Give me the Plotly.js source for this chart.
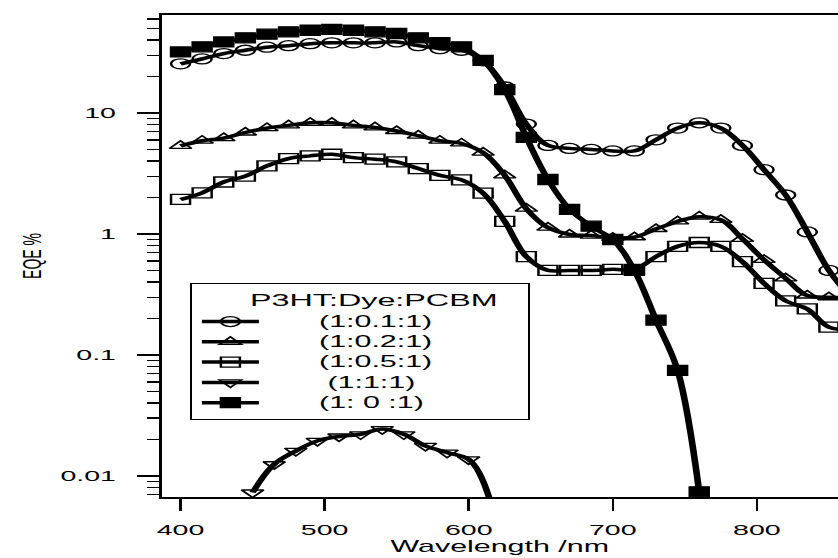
<!DOCTYPE html>
<html>
<head>
<meta charset="utf-8">
<script src="https://cdn.plot.ly/plotly-3.0.1.min.js"></script>
<style>
  html, body { margin: 0; padding: 0; background: #fff; overflow: hidden; width: 838px; height: 558px; }
  #wrap { width: 441px; height: 558px; transform: scaleX(1.9002); transform-origin: 0 0; }
</style>
</head>
<body>
<div id="wrap"><div id="chart"></div></div>
<script>
// ---- data ----
const wlMain = [400,415,430,445,460,475,490,505,520,535,550,565,580,595,610,625,640,655,670,685,700,715,730,745,760,775,790,805,820,835,850,865];
const wlDye11 = [450,465,480,495,510,525,540,555,570,585,600,615];
const wlNoDye = [400,415,430,445,460,475,490,505,520,535,550,565,580,595,610,625,640,655,670,685,700,715,730,745,760];

const eqe_1_01_1 = [25.5,28,31,33,35,36,37.4,38,38,38,38.7,36,34,33,27,16.4,8.1,5.4,5.1,5.0,4.86,4.86,6.0,7.5,8.3,7.5,5.4,3.4,2.1,1.04,0.50,0.30];
const eqe_1_02_1 = [5.35,5.9,6.2,6.9,7.5,7.9,8.3,8.3,7.9,7.6,7.1,6.5,5.9,5.6,4.7,3.05,1.62,1.13,0.99,0.97,0.93,0.94,1.1,1.27,1.39,1.31,0.91,0.61,0.43,0.31,0.30,0.30];
const eqe_1_05_1 = [1.93,2.19,2.69,3.01,3.65,4.2,4.42,4.56,4.28,4.15,3.94,3.47,3.05,2.8,2.18,1.27,0.65,0.50,0.50,0.50,0.51,0.51,0.65,0.79,0.85,0.79,0.59,0.39,0.28,0.24,0.17,0.16];
const eqe_1_1_1  = [0.0073,0.0125,0.0161,0.0195,0.0212,0.0221,0.0244,0.0221,0.0177,0.0156,0.0137,0.0062];
const eqe_1_0_1  = [32,35.2,38.7,41.8,44.8,46.9,48.3,49.2,48.3,46.9,45.4,41.8,38.2,35.2,27.2,15.6,6.3,2.82,1.6,1.16,0.90,0.50,0.194,0.0745,0.0074];

const seriesNames = ['(1:0.1:1)','(1:0.2:1)','(1:0.5:1)','(1:1:1)','(1: 0 :1)'];
const legendTitle = 'P3HT:Dye:PCBM';
const yTickVals = [0.01,0.1,1,10];
const yTickText = ['0.01','0.1','1','10'];
const xTitle = 'Wavelength /nm';
const yTitle = 'EQE %';

// ---- styling ----
const NB = '\u00A0';
function pad(name, lead, trail) {
  return '<span style="font-size:16px">' + NB.repeat(lead) + name + NB.repeat(trail) + '</span>';
}
const FONT = 'Liberation Sans, Arial, sans-serif';
function trace(x, y, name, symbol, lead, trail) {
  return {
    x: x, y: y, name: pad(name, lead, trail), type: 'scatter', mode: 'lines+markers',
    line: {color: '#000', width: 3.5, shape: 'spline', smoothing: 1},
    marker: {symbol: symbol, size: 10, color: '#000', line: {color: '#000', width: 1.3}},
    cliponaxis: true
  };
}
const data = [
  trace(wlMain, eqe_1_01_1, seriesNames[0], 'circle-open', 6, 10),
  trace(wlMain, eqe_1_02_1, seriesNames[1], 'triangle-up-open', 6, 10),
  trace(wlMain, eqe_1_05_1, seriesNames[2], 'square-open', 6, 10),
  trace(wlDye11, eqe_1_1_1, seriesNames[3], 'triangle-down-open', 7, 10),
  trace(wlNoDye, eqe_1_0_1, seriesNames[4], 'square', 6, 10)
];

const minorVals = [];
[0.001,0.01,0.1,1,10].forEach(d => { for (let k = 2; k <= 9; k++) minorVals.push(d*k); });

const layout = {
  width: 441, height: 558,
  margin: {l: 85, r: 0, t: 15, b: 61, pad: 0},
  paper_bgcolor: '#fff', plot_bgcolor: '#fff',
  font: {family: FONT, color: '#000', size: 15},
  showlegend: true,
  legend: {
    x: 0.042, y: 0.444, xanchor: 'left', yanchor: 'top',
    bordercolor: '#000', borderwidth: 1.3, bgcolor: '#fff',
    font: {family: FONT, size: 13.3, color: '#000'},
    title: {text: NB.repeat(6) + legendTitle, side: 'top', font: {family: FONT, size: 17, color: '#000'}},
    itemwidth: 30, tracegroupgap: 0
  },
  xaxis: {
    range: [386.8, 856.3], autorange: false,
    tickmode: 'linear', tick0: 400, dtick: 100,
    ticks: 'outside', ticklen: 12, tickwidth: 1.3, tickcolor: '#000',
    showline: true, linecolor: '#000', linewidth: 2, mirror: true,
    showgrid: false, zeroline: false,
    tickfont: {family: FONT, size: 15, color: '#000'},
    ticklabelstandoff: 6,
    title: {text: xTitle, font: {family: FONT, size: 16, color: '#000'}, standoff: 0},
    automargin: false
  },
  yaxis: {
    type: 'log', range: [Math.log10(0.0067), 1.81], autorange: false,
    tickmode: 'array', tickvals: yTickVals, ticktext: yTickText,
    ticks: 'outside', ticklen: 11.6, tickwidth: 1.5, tickcolor: '#000',
    minor: {tickmode: 'array', tickvals: minorVals, ticks: 'outside', ticklen: 6.3, tickwidth: 1.5, tickcolor: '#000', showgrid: false},
    showline: true, linecolor: '#000', linewidth: 1.4, mirror: false,
    showgrid: false, zeroline: false,
    tickfont: {family: FONT, size: 15, color: '#000'},
    ticklabelstandoff: 8,
    title: {text: yTitle, font: {family: FONT, size: 14, color: '#000'}, standoff: 6},
    automargin: false
  }
};

Plotly.newPlot('chart', data, layout, {staticPlot: true, displayModeBar: false});
</script>
</body>
</html>
